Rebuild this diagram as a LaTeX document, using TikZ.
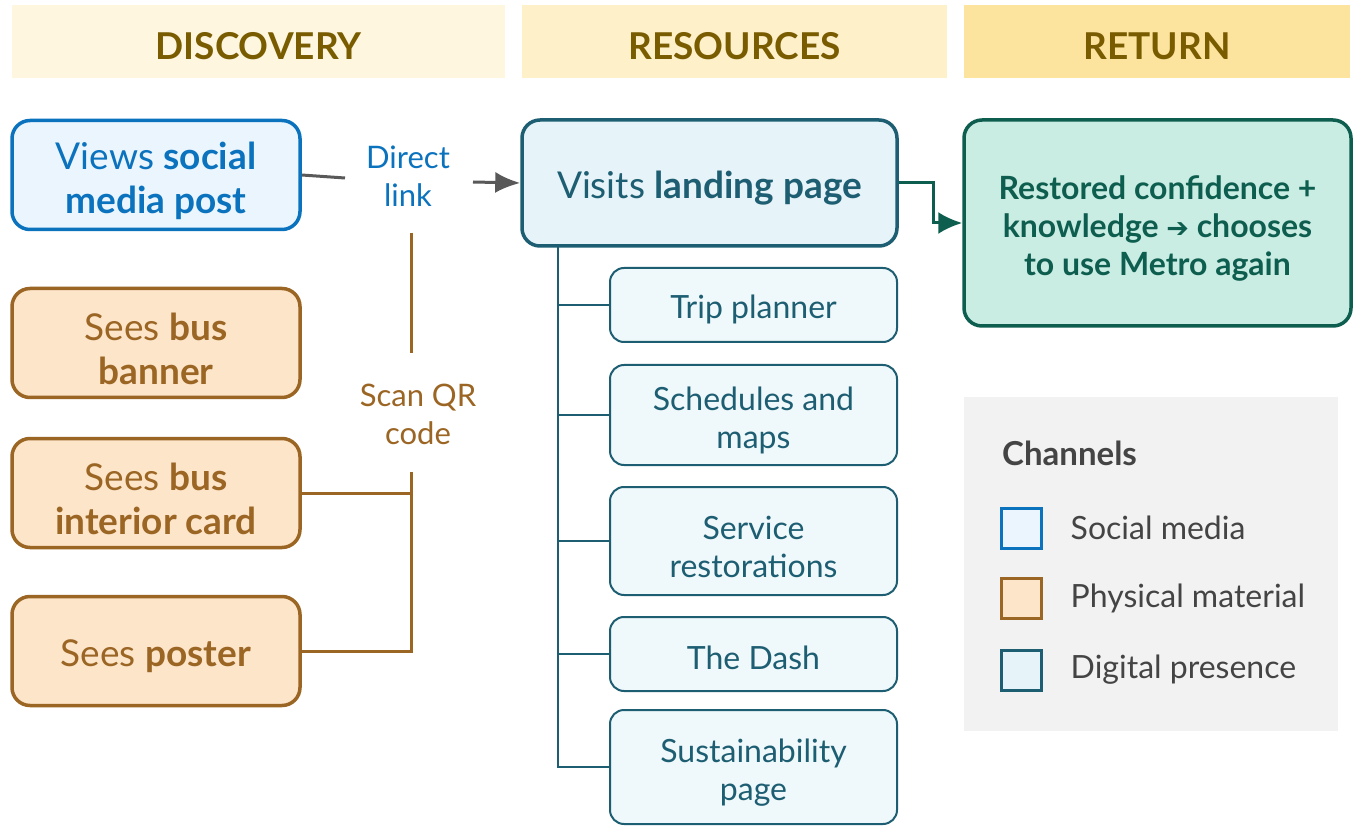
\documentclass[tikz,border=0pt]{standalone}
\usepackage{fontspec}
\setmainfont{Lato}
\newfontfamily\symfont{DejaVu Sans}
\usetikzlibrary{positioning,arrows.meta}

\definecolor{hdrtext}{HTML}{7A5C00}
\definecolor{hdrA}{HTML}{FEF6DF}
\definecolor{hdrB}{HTML}{FEF0C9}
\definecolor{hdrC}{HTML}{FDE49E}
\definecolor{socline}{HTML}{0B72BE}
\definecolor{socfill}{HTML}{EAF5FD}
\definecolor{physline}{HTML}{9B6524}
\definecolor{physfill}{HTML}{FDE5CA}
\definecolor{digline}{HTML}{1D5E72}
\definecolor{digfill}{HTML}{E6F3F8}
\definecolor{subfill}{HTML}{EFF8FA}
\definecolor{retline}{HTML}{0E5E4F}
\definecolor{retfill}{HTML}{C9ECE3}
\definecolor{linkgrey}{HTML}{595959}
\definecolor{legfill}{HTML}{F2F2F2}
\definecolor{legtext}{HTML}{444444}

% taller first line, so the text sits a little lower in its box
\newcommand\liftline[1][1em]{\rule{0pt}{#1}}

\tikzset{
	header/.style={rectangle,minimum height=73pt,inner sep=0pt,text=hdrtext,font=\fontsize{37}{40}\selectfont\bfseries,execute at begin node=\liftline},
	card/.style={rectangle,rounded corners=18pt,line width=3.5pt,minimum width=288pt,minimum height=109pt,inner sep=0pt,align=center,font=\fontsize{37}{44}\selectfont},
	social/.style={card,draw=socline,fill=socfill,text=socline},
	physical/.style={card,draw=physline,fill=physfill,text=physline},
	resource/.style={rectangle,rounded corners=14pt,draw=digline,fill=subfill,text=digline,line width=2pt,minimum width=287pt,inner sep=0pt,align=center,font=\fontsize{32}{38}\selectfont},
	keybox/.style={rectangle,line width=3pt,minimum width=40pt,minimum height=40pt,inner sep=0pt},
	keytext/.style={text=legtext,inner sep=0pt,font=\fontsize{32}{34}\selectfont},
}

\begin{document}
\begin{tikzpicture}[x=1pt,y=-1pt]
				\useasboundingbox[fill=white] (0,0) rectangle (1361,826);
				% column headers
				\node[header,fill=hdrA,minimum width=493pt] (hdisc) at (258.5,41.5) {DISCOVERY};
				\node[header,fill=hdrB,minimum width=425pt] (hres) at (734.5,41.5) {RESOURCES};
				\node[header,fill=hdrC,minimum width=386pt] (hret) at (1157,41.5) {RETURN};
				% discovery channels
				\node[social] (post) at (156,175) {\liftline[1.08em]Views \textbf{social}\\\textbf{media post}};
				\node[physical] (banner) at (156,343) {\liftline[1.08em]Sees \textbf{bus}\\\textbf{banner}};
				\node[physical] (card) at (156,493) {\liftline[1.08em]Sees \textbf{bus}\\\textbf{interior card}};
				\node[physical] (poster) at (156,651) {\liftline Sees \textbf{poster}};
				% landing page and its sections
				\node[card,draw=digline,fill=digfill,text=digline,minimum width=375pt,minimum height=126pt] (landing) at (709.5,183) {\liftline Visits \textbf{landing page}};
				\node[resource,minimum height=74pt] (trip) at (753.5,305) {\liftline Trip planner};
				\node[resource,minimum height=100pt] (sched) at (753.5,415) {\liftline[1.08em]Schedules and\\maps};
				\node[resource,minimum height=108pt] (restore) at (753.5,541) {\liftline[1.08em]Service\\restorations};
				\node[resource,minimum height=74pt] (dash) at (753.5,654) {\liftline The Dash};
				\node[resource,minimum height=114pt] (sustain) at (753.5,767) {\liftline[1.08em]Sustainability\\page};
				% outcome
				\node[card,draw=retline,fill=retfill,text=retline,minimum width=387pt,minimum height=206pt,font=\fontsize{32}{38}\selectfont\bfseries] (return) at (1157.5,223) {\liftline[1.08em]Restored confidence +\\knowledge {\symfont\fontsize{27}{38}\selectfont\bfseries ➔} chooses\\to use Metro again};
				% connector labels
				\node[text=socline,align=center,inner sep=0pt,font=\fontsize{31}{38}\selectfont] (direct) at (408,176) {Direct\\link};
				\node[text=physline,align=center,inner sep=0pt,font=\fontsize{31}{38}\selectfont] (scan) at (418,414) {Scan QR\\code};
				\coordinate (dl-in) at (345,178);
				\coordinate (dl-out) at (473,182);
				\coordinate (qr-top) at (411,233);
				\coordinate (qr-mid) at (411,353);
				\coordinate (qr-low) at (411,472);
				\coordinate (trunk) at (558,246);
				\coordinate (ret-bend) at (933,223);
				% social media link
				\path[draw,linkgrey,line width=3pt] (post.east) -- (dl-in);
				\path[draw,linkgrey,line width=3pt,-{Latex[length=25pt,width=21pt]}] (dl-out) -- (landing.west);
				% QR code links
				\path[draw,physline,line width=3pt] (qr-top) -- (qr-mid);
				\path[draw,physline,line width=3pt] (card.east) -- (card.east -| qr-low);
				\path[draw,physline,line width=3pt] (qr-low) |- (poster.east);
				% landing page sections
				\path[draw,digline,line width=2pt] (trunk) |- (trip.west);
				\path[draw,digline,line width=2pt] (trunk) |- (sched.west);
				\path[draw,digline,line width=2pt] (trunk) |- (restore.west);
				\path[draw,digline,line width=2pt] (trunk) |- (dash.west);
				\path[draw,digline,line width=2pt] (trunk) |- (sustain.west);
				% to the outcome
				\path[draw,retline,line width=3pt,-{Latex[length=24pt,width=22pt]}] (landing.east) -| (ret-bend) -- (return.west);
				% legend
				\node[rectangle,fill=legfill,minimum width=374pt,minimum height=334pt] (legend) at (1151,564) {};
				\node[anchor=west,text=legtext,inner sep=0pt,font=\fontsize{33}{34}\selectfont\bfseries] (chan) at (1002,453) {Channels};
				\node[keybox,draw=socline,fill=socfill] (key1) at (1021,528) {};
				\node[keybox,draw=physline,fill=physfill] (key2) at (1021,598) {};
				\node[keybox,draw=digline,fill=digfill] (key3) at (1021,670) {};
				\node[keytext,right=28pt of key1] (lab1) {Social media};
				\node[keytext,right=28pt of key2] (lab2) {Physical material};
				\node[keytext,right=28pt of key3] (lab3) {Digital presence};
			\end{tikzpicture}
\end{document}
